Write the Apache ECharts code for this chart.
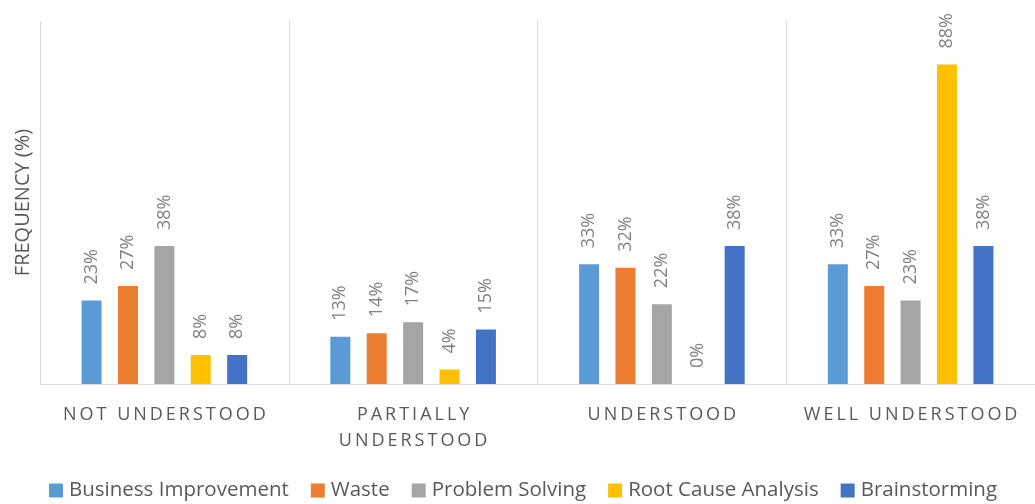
<!DOCTYPE html>
<html>
<head>
<meta charset="utf-8">
<script src="https://cdn.jsdelivr.net/npm/echarts@6/dist/echarts.min.js"></script>
<style>html,body{margin:0;padding:0;background:#fff}#c{width:1035px;height:504px}</style>
</head>
<body>
<div id="c"></div>
<script>
const categories = ['NOT UNDERSTOOD', 'PARTIALLY\nUNDERSTOOD', 'UNDERSTOOD', 'WELL UNDERSTOOD'];
const businessImprovement = [23, 13, 33, 33];
const waste = [27, 14, 32, 27];
const problemSolving = [38, 17, 22, 23];
const rootCauseAnalysis = [8, 4, 0, 88];
const brainstorming = [8, 15, 38, 38];
const seriesNames = ['Business Improvement', 'Waste', 'Problem Solving', 'Root Cause Analysis', 'Brainstorming'];
const colors = ['#5B9BD5', '#ED7D31', '#A5A5A5', '#FFC000', '#4472C4'];
const seriesData = [businessImprovement, waste, problemSolving, rootCauseAnalysis, brainstorming];

const FONT = '"Open Sans", sans-serif';
const spaced = s => s.split('\n').map(line => line.split(' ').map(w => w.split('').join('\u2009')).join('\u2009 \u2009')).join('\n');

const chart = echarts.init(document.getElementById('c'), null, {renderer: 'canvas'});
chart.setOption({
  animation: false,
  textStyle: {fontFamily: FONT},
  grid: {left: 40, right: -2, top: 21, bottom: 120, containLabel: false},
  legend: {
    left: 49, top: 480, padding: 0, itemWidth: 14, itemHeight: 14, itemGap: 22, icon: 'rect',
    textStyle: {fontSize: 20.5, color: '#595959', fontFamily: FONT, padding: [0, 0, 0, 1]},
    data: seriesNames
  },
  xAxis: {
    type: 'category', data: categories,
    axisLine: {lineStyle: {color: '#D9D9D9', width: 1}},
    axisTick: {show: false},
    splitLine: {show: true, lineStyle: {color: '#D9D9D9', width: 1}},
    axisLabel: {
      interval: 0, margin: 18, color: '#595959', fontSize: 18, lineHeight: 26, fontFamily: FONT,
      formatter: v => spaced(v)
    }
  },
  yAxis: {
    type: 'value', min: 0, max: 100,
    name: 'FREQUENCY (%)', nameLocation: 'middle', nameGap: 7, nameRotate: 90,
    nameTextStyle: {fontSize: 20, color: '#595959', fontFamily: FONT},
    axisLine: {show: false}, axisTick: {show: false}, axisLabel: {show: false},
    splitLine: {show: false}
  },
  series: seriesNames.map((name, i) => ({
    name, type: 'bar', data: seriesData[i], barWidth: 20, barGap: '82%',
    itemStyle: {color: colors[i]},
    label: {
      show: true, position: 'top', rotate: 90, align: 'left', verticalAlign: 'middle',
      distance: 16, color: '#808080', fontSize: 18, fontFamily: FONT,
      formatter: p => p.value + '%'
    }
  }))
});
</script>
</body>
</html>
